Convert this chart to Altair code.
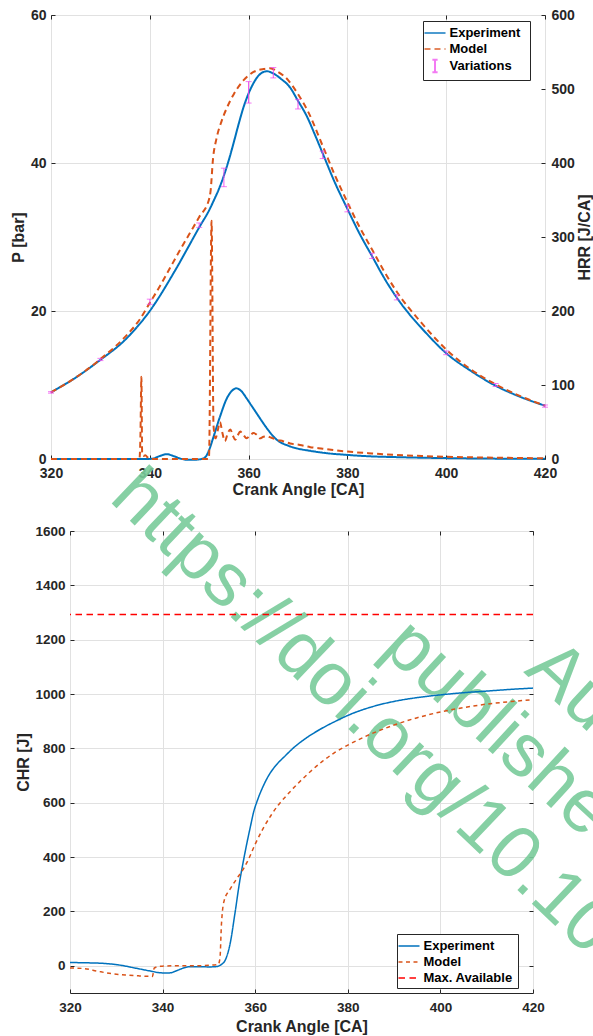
import altair as alt
import pandas as pd

# ---------------- Top panel data ----------------
p_exp_ca = [320, 325, 330, 335, 337.5, 340, 342, 344, 346, 348, 350, 352, 353, 354, 355, 356, 357, 358, 359, 360,
            361, 362, 363.7, 365, 366.5, 368.4, 370, 371.8, 373.5, 375, 377.5, 380, 382.5, 385, 387.5, 390, 392.5,
            395, 400, 405, 410, 415, 420]
p_exp = [9.0, 11.0, 13.4, 16.1, 17.9, 20.0, 22.0, 24.2, 26.5, 28.9, 31.3, 33.6, 35.0, 36.5, 38.3, 40.4, 42.8, 45.3,
         47.6, 49.4, 50.8, 51.8, 52.4, 52.1, 51.4, 50.2, 48.4, 46.3, 43.7, 41.3, 37.3, 33.8, 30.4, 27.4, 24.4, 21.8,
         19.6, 17.7, 14.3, 11.9, 9.9, 8.4, 7.2]

p_model_ca = [320, 325, 330, 335, 338, 340, 342, 344, 346, 348, 350, 352, 352.3, 352.8, 353.5, 354.5, 355.5, 357,
              359, 361, 363, 364.3, 366, 368, 370, 372, 375, 377.5, 380, 382.5, 385, 387.5, 390, 395, 400, 405, 410,
              415, 420]
p_model = [9.0, 11.0, 13.5, 16.5, 18.9, 21.1, 23.3, 25.7, 28.1, 30.4, 32.7, 35.1, 36.2, 40.6, 43.3, 45.6, 47.3, 49.3,
           51.2, 52.3, 52.7, 52.8, 52.3, 51.2, 49.3, 47.0, 42.3, 38.3, 34.7, 31.3, 28.3, 25.3, 22.6, 18.4, 14.8, 12.1,
           10.1, 8.5, 7.2]

hrr_exp_ca = [320, 330, 339, 340.6, 342, 343.4, 345, 346, 347.5, 349, 350.5, 351.3, 352, 352.9, 354.2, 355.6, 356.6,
              357.5, 358.5, 359.6, 360.6, 361.6, 362.7, 363.7, 365.7, 368, 370, 372.5, 375, 380, 385, 390, 400, 410,
              420]
hrr_exp = [0, 0, 0, 0.5, 4, 6.5, 3.5, 1, -1, -1, 0, 3, 12, 30, 57, 82, 92, 95.5, 92, 82, 72, 62, 51, 41.5, 26, 18, 14,
           11, 8.5, 5.5, 3.5, 2.5, 1.2, 0.5, 0.3]

hrr_model_ca = [320, 337.9, 338.1, 338.3, 338.45, 338.7, 339.1, 339.6, 340.2, 351.9, 352.0, 352.5, 352.9, 353.3,
                353.8, 354.2, 354.7, 355.2, 355.8, 356.3, 356.8, 357.3, 357.8, 358.3, 358.9, 359.6, 360.3, 361.0,
                361.6, 362.3, 363.0, 363.7, 364.5, 365.7, 367, 368.4, 370.4, 372.5, 375, 380, 385, 390, 395, 400, 410,
                420]
hrr_model = [0, 0, 30, 111, 8, 4, 5, 2, 0, 0, 5, 322, 45, 28, 40, 50, 35, 24, 35, 40, 32, 26, 32, 37, 33, 28, 32, 35,
             33, 28, 30, 30.5, 29, 26, 24, 21, 19, 16, 14, 10, 7.5, 5.5, 4, 3, 1.8, 1]

var_ca = [320, 330, 340, 350, 355, 360, 365, 370, 375, 380, 385, 390, 400, 410, 420]
var_lo = [8.9, 13.3, 20.9, 31.3, 36.8, 48.1, 51.5, 47.3, 40.6, 33.4, 27.1, 21.5, 14.1, 9.8, 7.0]
var_hi = [9.1, 13.6, 21.6, 31.9, 39.3, 51.0, 52.9, 48.6, 41.6, 34.3, 27.8, 22.2, 14.6, 10.2, 7.3]

# ---------------- Bottom panel data ----------------
chr_exp_ca = [320, 324, 328, 331, 334, 337, 340, 341.5, 343, 344.5, 346, 348, 350, 351.5, 352.5, 353.5, 354.6, 355.6,
              356.7, 357.5, 358.2, 359, 359.6, 360.5, 361.7, 363, 364.6, 366.5, 368.2, 371, 374, 377, 380.5, 385, 390,
              395, 400, 405, 410, 415, 420]
chr_exp = [12, 11, 8, 2, -8, -18, -26, -26, -18, -8, -3, -3, -4, -3, 3, 20, 83, 190, 316, 390, 451, 515, 562, 610,
           660, 703, 740, 773, 801, 838, 870, 897, 925, 952, 973, 987, 997, 1005, 1011, 1017, 1022]

chr_model_ca = [320, 323, 326, 329, 332, 335, 337.8, 338.2, 339.5, 342, 346, 350, 352.0, 352.4, 352.7, 352.95, 353.3,
                354.5, 356, 357.5, 358.5, 360, 361.7, 363.5, 365, 366.8, 368.2, 370, 372, 374.5, 377, 380, 385, 390,
                395, 400, 405, 410, 415, 420]
chr_model = [-8, -10, -20, -29, -34, -37, -39, -8, -2, 0, 0, 2, 5, 30, 150, 205, 240, 280, 320, 358, 390, 448, 505,
             556, 592, 627, 653, 684, 716, 752, 783, 812, 853, 886, 913, 934, 950, 963, 972, 979]

max_available = [1293]

top_series = ["Experiment", "Model", "Variations"]
bottom_series = ["Experiment", "Model", "Max. Available"]
x_ticks = [320, 340, 360, 380, 400, 420]
p_ticks = [0, 20, 40, 60]
hrr_ticks = [0, 100, 200, 300, 400, 500, 600]
chr_ticks = [0, 200, 400, 600, 800, 1000, 1200, 1400, 1600]
watermark_lines = ["https://doi.org/10.10", "published", "Author"]

# ---------------- styling / layout ----------------
FONT = "Liberation Sans"
INK = "#262626"
GRID = "#E1E1E1"
BLUE, ORANGE, MAGENTA, RED = "#0072BD", "#D95319", "#EE44EE", "#FF0000"
GREEN = "#79CC9B"
LINE_GLYPH = "M-1.33,0L1.33,0"
IBEAM = "M0,-0.8L0,0.8M-0.33,-0.8L0.33,-0.8M-0.33,0.8L0.33,0.8"
TICK = 4  # MATLAB-style inward ticks

TOP_W, TOP_H = 494, 444
BOT_W, BOT_H = 463, 462


def main_x_axis(label_size, label_pad, title_y, width):
    return alt.Axis(orient="bottom", values=x_ticks, title="Crank Angle [CA]", grid=True, labelFlush=False,
                    labelOverlap=False, labelBaseline="alphabetic", labelPadding=label_pad,
                    labelFontSize=label_size, ticks=True, tickSize=TICK, offset=-TICK, domain=False,
                    titleX=width / 2, titleY=title_y + TICK, titleBaseline="alphabetic", titleAlign="center")


def tick_only_axis(orient, values):
    return alt.Axis(orient=orient, values=values, title=None, labels=False, domain=False, grid=False,
                    ticks=True, tickSize=TICK, offset=-TICK)


def legend(x, y, stroke_w, right_gap):
    # a blank (no-break space) title on the right only widens the box like MATLAB's legend frame
    return alt.Legend(
        title="\u00a0", titleOrient="right", titlePadding=right_gap, titleFontSize=8,
        orient="none", legendX=x, legendY=y, symbolType=LINE_GLYPH, symbolSize=250,
        symbolStrokeWidth=stroke_w, labelFont=FONT, labelFontWeight="bold", labelFontSize=13,
        labelColor="black", strokeColor=INK, fillColor="white", padding=3, rowPadding=-1, labelOffset=5.5)


x_scale = alt.Scale(domain=[320, 420], nice=False, zero=False)

# ---------------- frames ----------------
p_df = pd.DataFrame({"ca": p_exp_ca + p_model_ca, "val": p_exp + p_model,
                     "series": ["Experiment"] * len(p_exp_ca) + ["Model"] * len(p_model_ca)})
hrr_df = pd.DataFrame({"ca": hrr_exp_ca + hrr_model_ca, "val": hrr_exp + hrr_model,
                       "series": ["Experiment"] * len(hrr_exp_ca) + ["Model"] * len(hrr_model_ca)})
var_df = pd.DataFrame({"ca": var_ca, "lo": var_lo, "hi": var_hi, "series": ["Variations"] * len(var_ca)})
chr_df = pd.DataFrame({"ca": chr_exp_ca + chr_model_ca, "val": chr_exp + chr_model,
                       "series": ["Experiment"] * len(chr_exp_ca) + ["Model"] * len(chr_model_ca)})
max_df = pd.DataFrame({"val": max_available, "series": ["Max. Available"]})

# ---------------- top panel ----------------
top_legend = legend(372, 6, 2, 7)
t_color = alt.Color("series:N", scale=alt.Scale(domain=top_series, range=[BLUE, ORANGE, MAGENTA]),
                    legend=top_legend)
t_dash = alt.StrokeDash("series:N", scale=alt.Scale(domain=top_series, range=[[1, 0], [6, 4], [1, 0]]),
                        legend=top_legend)
t_shape = alt.Shape("series:N", scale=alt.Scale(domain=top_series, range=[LINE_GLYPH, LINE_GLYPH, IBEAM]),
                    legend=top_legend)

tx_main = alt.X("ca:Q", scale=x_scale, axis=main_x_axis(14, 18, 35, TOP_W))
tx_top = alt.X("ca:Q", scale=x_scale, axis=tick_only_axis("top", x_ticks))

p_scale = alt.Scale(domain=[0, 60], nice=False)
p_axis = alt.Axis(orient="left", values=p_ticks, title="P [bar]", grid=True, ticks=True, tickSize=TICK,
                  offset=-TICK, domain=False, labelPadding=5, labelFontSize=14, titleAngle=270,
                  titleX=-28 - TICK, titleY=TOP_H / 2, titleBaseline="alphabetic", titleAlign="center")

p_line = alt.Chart(p_df).mark_line(strokeWidth=2, interpolate="monotone").encode(
    x=tx_main, y=alt.Y("val:Q", scale=p_scale, axis=p_axis), color=t_color, strokeDash=t_dash)
err_rule = alt.Chart(var_df).mark_rule(strokeWidth=1).encode(
    x=tx_main, y=alt.Y("lo:Q", scale=p_scale, axis=p_axis), y2="hi:Q", color=t_color, strokeDash=t_dash)
err_lo = alt.Chart(var_df).mark_tick(orient="horizontal", size=6, thickness=1).encode(
    x=tx_main, y=alt.Y("lo:Q", scale=p_scale, axis=p_axis), color=t_color)
err_hi = alt.Chart(var_df).mark_tick(orient="horizontal", size=6, thickness=1).encode(
    x=tx_main, y=alt.Y("hi:Q", scale=p_scale, axis=p_axis), color=t_color)
# zero-size points only carry the legend glyph (I-beam) for "Variations"
err_glyph = alt.Chart(var_df).mark_point(size=0, strokeWidth=0).encode(
    x=tx_main, y=alt.Y("lo:Q", scale=p_scale, axis=p_axis), color=t_color, shape=t_shape)
p_group = alt.layer(p_line, err_rule, err_lo, err_hi, err_glyph)

hrr_axis = alt.Axis(orient="right", values=hrr_ticks, title="HRR [J/CA]", grid=False, ticks=True, tickSize=TICK,
                    offset=-TICK, domain=False, labelPadding=6, labelFontSize=14, titleAngle=270,
                    titleX=44.5 + TICK, titleY=TOP_H / 2, titleBaseline="alphabetic", titleAlign="center")
hrr_line = alt.Chart(hrr_df).mark_line(strokeWidth=2, interpolate="monotone").encode(
    x=tx_top, y=alt.Y("val:Q", scale=alt.Scale(domain=[0, 600], nice=False), axis=hrr_axis),
    color=t_color, strokeDash=t_dash)

top = alt.layer(p_group, hrr_line).resolve_scale(y="independent").resolve_axis(x="independent").properties(
    width=TOP_W, height=TOP_H, view=alt.ViewBackground(stroke=INK, strokeWidth=1))

# ---------------- bottom panel ----------------
bot_legend = legend(327 + 19, 403, 1.5, 2)
b_color = alt.Color("series:N", scale=alt.Scale(domain=bottom_series, range=[BLUE, ORANGE, RED]),
                    legend=bot_legend)
b_dash = alt.StrokeDash("series:N", scale=alt.Scale(domain=bottom_series, range=[[1, 0], [4, 3.5], [6.5, 4.5]]),
                        legend=bot_legend)
bx_main = alt.X("ca:Q", scale=x_scale, axis=main_x_axis(13.5, 18.7, 38.5, BOT_W))
bx_top = alt.X("ca:Q", scale=x_scale, axis=tick_only_axis("top", x_ticks))
chr_scale = alt.Scale(domain=[-100, 1600], nice=False)
chr_axis = alt.Axis(orient="left", values=chr_ticks, format="d", title="CHR [J]", grid=True, ticks=True,
                    tickSize=TICK, offset=-TICK, domain=False, labelPadding=5, labelFontSize=13.5,
                    titleAngle=270, titleX=-42 - TICK, titleY=BOT_H / 2, titleBaseline="alphabetic",
                    titleAlign="center")


def watermark(i, x, y, angle):
    return alt.Chart(pd.DataFrame({"t": [watermark_lines[i]]})).mark_text(
        align="left", baseline="alphabetic", angle=angle, font=FONT, fontSize=75, color=GREEN, opacity=0.9
    ).encode(text="t:N", x=alt.value(x), y=alt.value(y))


wm1 = watermark(0, 38, -31, 43.6)
wm2 = watermark(1, 310, 119, 42.7)
wm3 = watermark(2, 453, 141, 42.7)

chr_line = alt.Chart(chr_df).mark_line(strokeWidth=1.5, interpolate="monotone").encode(
    x=bx_main, y=alt.Y("val:Q", scale=chr_scale, axis=chr_axis), color=b_color, strokeDash=b_dash)
max_rule = alt.Chart(max_df).mark_rule(strokeWidth=1.5).encode(
    y=alt.Y("val:Q", scale=chr_scale, axis=tick_only_axis("right", chr_ticks)), color=b_color, strokeDash=b_dash)
top_ticks = alt.Chart(chr_df).mark_point(opacity=0).encode(x=bx_top)

bottom = alt.layer(wm1, wm2, wm3, chr_line, max_rule, top_ticks).resolve_axis(
    x="independent", y="independent").properties(
    width=BOT_W, height=BOT_H, view=alt.ViewBackground(stroke=INK, strokeWidth=1))

spacer = alt.Chart(pd.DataFrame({"s": [""]})).mark_text().encode(text="s:N").properties(width=19, height=BOT_H)

chart = alt.vconcat(
    top,
    alt.hconcat(spacer, bottom, spacing=0, bounds="flush"),
    spacing=72, bounds="flush",
).resolve_scale(color="independent", strokeDash="independent", shape="independent").properties(
    autosize=alt.AutoSizeParams(type="none"),
    padding={"left": 51, "top": 15, "right": 542, "bottom": 1021},
    background="white",
).configure_view(strokeWidth=0).configure_axis(
    labelFont=FONT, labelFontWeight="bold", labelColor=INK, titleFont=FONT, titleFontWeight="bold",
    titleFontSize=16, titleColor=INK, domainColor=INK, domainWidth=1, gridColor=GRID, gridWidth=1,
    tickColor=INK, tickWidth=1,
)

chart.save("out.html", embed_options={"renderer": "svg", "actions": False})
